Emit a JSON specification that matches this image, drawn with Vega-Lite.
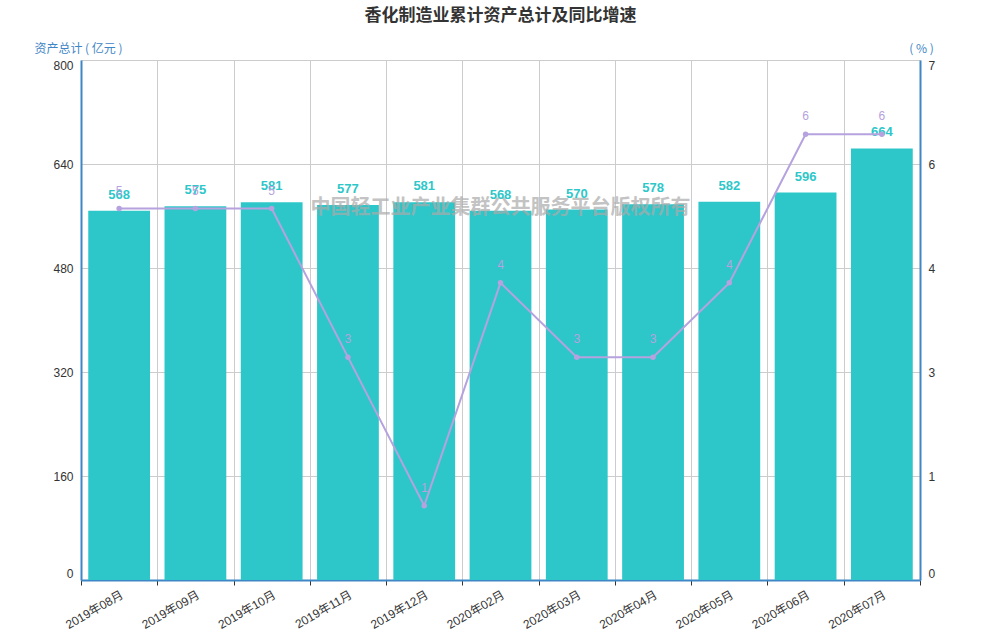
{
  "$schema": "https://vega.github.io/schema/vega-lite/v6.json",
  "width": 839,
  "height": 520,
  "autosize": {"type": "none"},
  "padding": {"left": 81, "top": 60, "right": 80, "bottom": 60},
  "background": "white",
  "title": {
    "text": "香化制造业累计资产总计及同比增速",
    "fontSize": 17,
    "fontWeight": "bold",
    "color": "#333333",
    "font": "Noto Sans CJK SC",
    "anchor": "middle",
    "offset": 17
  },
  "config": {
    "font": "Liberation Sans, Noto Sans CJK SC",
    "view": {"stroke": null},
    "axis": {
      "labelFont": "Liberation Sans, Noto Sans CJK SC",
      "labelFontSize": 12,
      "labelColor": "#333333",
      "gridColor": "#cccccc",
      "titleFont": "Noto Sans CJK SC",
      "titleFontWeight": "normal",
      "titleFontSize": 12,
      "titleColor": "#3f86c6"
    }
  },
  "data": {
    "values": [
      {"month": "2019年08月", "total": 568, "rate": 5},
      {"month": "2019年09月", "total": 575, "rate": 5},
      {"month": "2019年10月", "total": 581, "rate": 5},
      {"month": "2019年11月", "total": 577, "rate": 3},
      {"month": "2019年12月", "total": 581, "rate": 1},
      {"month": "2020年02月", "total": 568, "rate": 4},
      {"month": "2020年03月", "total": 570, "rate": 3},
      {"month": "2020年04月", "total": 578, "rate": 3},
      {"month": "2020年05月", "total": 582, "rate": 4},
      {"month": "2020年06月", "total": 596, "rate": 6},
      {"month": "2020年07月", "total": 664, "rate": 6}
    ]
  },
  "encoding": {
    "x": {
      "field": "month",
      "type": "nominal",
      "sort": null,
      "title": null,
      "scale": {"paddingInner": 0, "paddingOuter": 0},
      "axis": {
        "labelAngle": -30,
        "labelAlign": "right",
        "labelBaseline": "top",
        "tickBand": "extent",
        "grid": true,
        "domainColor": "#3f86c6",
        "domainWidth": 2,
        "tickColor": "#333333",
        "tickSize": 5,
        "labelPadding": 4
      }
    }
  },
  "layer": [
    {
      "encoding": {
        "y": {
          "field": "total",
          "type": "quantitative",
          "title": "资产总计 ( 亿元 )",
          "scale": {"domain": [0, 800], "nice": false},
          "axis": {
            "values": [0, 160, 320, 480, 640, 800],
            "labelFlush": true,
            "titleAngle": 0,
            "titleAlign": "center",
            "titleBaseline": "middle",
            "titleX": -3,
            "titleY": -12,
            "ticks": false,
            "labelPadding": 8,
            "domainColor": "#3f86c6",
            "domainWidth": 2,
            "grid": true
          }
        }
      },
      "layer": [
        {"mark": {"type": "bar", "color": "#2ec7c9", "width": {"band": 0.81}}},
        {
          "data": {"values": [{"month": "2020年02月", "total": 572, "mark": "中国轻工业产业集群公共服务平台版权所有"}]},
          "mark": {
            "type": "text",
            "fontSize": 20,
            "fontWeight": "bold",
            "color": "#aaaaaa",
            "opacity": 0.7,
            "font": "Noto Sans CJK SC"
          },
          "encoding": {"text": {"field": "mark", "type": "nominal"}}
        },
        {
          "mark": {
            "type": "text",
            "dy": -16,
            "fontSize": 13,
            "fontWeight": "bold",
            "color": "#2ec7c9",
            "font": "Liberation Sans"
          },
          "encoding": {"text": {"field": "total", "type": "quantitative"}}
        }
      ]
    },
    {
      "encoding": {
        "y": {
          "field": "rate",
          "type": "quantitative",
          "title": "( % )",
          "scale": {"domain": [0, 7], "nice": false},
          "axis": {
            "orient": "right",
            "values": [0, 1.4, 2.8, 4.2, 5.6, 7],
            "format": ".0f",
            "labelFlush": true,
            "titleAngle": 0,
            "titleAlign": "center",
            "titleBaseline": "middle",
            "titleX": 1,
            "titleY": -12,
            "ticks": false,
            "labelPadding": 8,
            "domainColor": "#3f86c6",
            "domainWidth": 2,
            "grid": false
          }
        }
      },
      "layer": [
        {"mark": {"type": "line", "color": "#b6a2de", "strokeWidth": 2}},
        {"mark": {"type": "point", "filled": true, "opacity": 1, "color": "#b6a2de", "size": 30}},
        {
          "mark": {
            "type": "text",
            "dy": -18,
            "fontSize": 12,
            "color": "#b6a2de",
            "font": "Liberation Sans"
          },
          "encoding": {"text": {"field": "rate", "type": "quantitative"}}
        }
      ]
    }
  ],
  "resolve": {"scale": {"y": "independent"}}
}
